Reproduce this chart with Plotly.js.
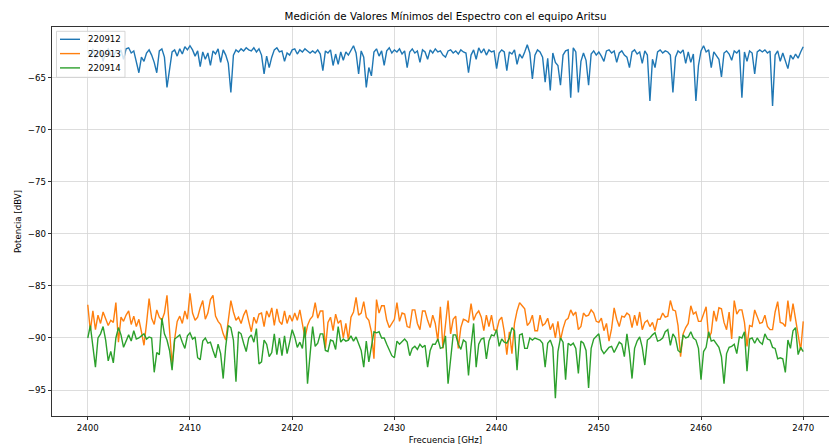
<!DOCTYPE html>
<html>
<head>
<meta charset="utf-8">
<script src="https://cdn.plot.ly/plotly-3.0.1.min.js"></script>
<style>
  html, body { margin: 0; padding: 0; overflow: hidden; background: #fff; }
  #chart { width: 860px; height: 448px; }
</style>
</head>
<body>
<div id="chart"></div>
<script>
// Frequency grid (GHz): 2400 to 2470 in 0.25 GHz steps
const freqStart = 2400;
const freqStep = 0.25;
const freqCount = 281;

// Minimum level per frequency (dBV) for each measurement
const s220912 = [
  -62.4, -62.9, -62.2, -63.1,  -62.6, -62.3, -63.4, -62.5,  -62.2, -62.8, -63.0, -62.4,  -62.7, -62.3, -63.2, -62.2,
  -62.1, -62.6, -62.4, -63.6,  -64.5, -63.0, -63.4, -62.6,  -62.3, -62.8, -63.5, -64.5,  -62.4, -62.2, -63.0, -65.9,
  -64.2, -62.5, -62.3, -62.9,  -62.2, -62.7, -62.0, -62.3,  -61.9, -62.3, -62.9, -62.4,  -63.9, -62.5, -63.2, -62.6,
  -63.8, -62.4, -62.7, -62.2,  -63.5, -62.3, -62.8, -63.6,  -66.4, -62.8, -62.3, -62.5,  -62.2, -62.4, -62.1, -62.3,
  -62.4, -62.1, -62.5, -62.2,  -62.8, -64.6, -62.9, -64.0,  -63.0, -62.3, -62.1, -62.5,  -62.4, -63.4, -62.6, -62.8,
  -62.3, -62.2, -62.7, -62.3,  -62.5, -62.2, -62.4, -62.6,  -62.4, -62.6, -62.3, -62.7,  -64.3, -62.4, -62.6, -62.3,
  -63.8, -62.7, -63.7, -62.5,  -63.3, -62.5, -62.8, -62.3,  -61.9, -62.6, -64.6, -62.4,  -63.0, -65.9, -64.0, -64.8,
  -62.5, -62.2, -62.9, -62.4,  -63.8, -62.4, -62.1, -62.6,  -62.3, -62.5, -62.2, -62.7,  -62.4, -64.0, -62.5, -62.2,
  -62.6, -62.4, -63.5, -62.3,  -62.5, -63.2, -62.3, -62.6,  -62.2, -62.5, -62.4, -62.8,  -63.0, -62.4, -62.3, -62.6,
  -62.4, -62.7, -62.3, -62.5,  -62.6, -64.5, -62.8, -62.3,  -63.2, -62.1, -62.6, -62.2,  -62.8, -62.3, -62.5, -62.4,
  -64.1, -62.6, -62.3, -62.5,  -64.3, -62.5, -62.7, -62.3,  -63.7, -62.7, -63.1, -62.5,  -61.8, -62.6, -65.1, -62.8,
  -62.3, -62.5, -63.0, -65.4,  -63.1, -66.2, -62.6, -63.5,  -63.8, -65.7, -62.8, -62.4,  -62.3, -66.9, -62.1, -62.5,
  -66.4, -63.4, -62.6, -63.3,  -65.7, -62.7, -62.4, -62.8,  -62.5, -62.9, -63.4, -62.4,  -62.3, -62.6, -62.4, -63.5,
  -62.6, -62.4, -62.8, -63.0,  -64.0, -62.5, -62.3, -62.7,  -62.5, -63.6, -62.4, -62.8,  -67.2, -63.2, -64.0, -62.5,
  -62.3, -62.6, -62.4, -62.5,  -62.8, -66.4, -63.0, -62.4,  -62.6, -62.3, -63.6, -62.5,  -63.5, -62.7, -67.2, -63.8,
  -62.4, -61.9, -62.5, -62.3,  -64.0, -62.5, -62.8, -63.2,  -64.9, -62.6, -62.4, -62.7,  -63.3, -62.4, -62.6, -62.3,
  -66.9, -62.5, -63.4, -62.4,  -62.6, -64.6, -62.5, -62.3,  -62.5, -62.3, -62.6, -62.4,  -67.7, -62.8, -62.4, -63.4,
  -62.6, -63.3, -64.1, -62.8,  -63.2, -62.7, -63.1, -62.5,
  -62.0
];

const s220913 = [
  -86.8, -89.3, -87.4, -89.2,  -87.8, -88.6, -87.5, -88.2,  -88.8, -88.3, -88.5, -86.6,  -90.4, -88.0, -88.4, -87.8,
  -87.4, -88.7, -87.9, -88.9,  -88.2, -89.4, -90.7, -88.6,  -86.2, -88.1, -88.7, -87.3,  -88.0, -88.3, -87.6, -85.9,
  -89.6, -92.6, -90.1, -88.4,  -87.9, -88.6, -87.4, -88.2,  -85.7, -87.6, -88.3, -88.0,  -87.1, -86.4, -88.2, -87.6,
  -86.3, -85.9, -87.9, -88.4,  -88.7, -89.6, -90.2, -88.5,  -86.4, -87.5, -88.3, -88.0,  -88.6, -87.8, -87.3, -88.4,
  -89.4, -88.0, -88.6, -87.7,  -87.6, -88.9, -87.4, -88.0,  -87.1, -88.8, -87.2, -88.4,  -88.7, -87.4, -88.6, -87.8,
  -88.4, -87.6, -88.3, -87.3,  -88.5, -90.0, -88.8, -88.2,  -87.9, -86.6, -88.1, -87.4,  -87.4, -91.0, -88.5, -88.0,
  -89.3, -87.7, -88.6, -88.3,  -90.0, -88.6, -90.2, -88.0,  -87.5, -86.1, -87.8, -87.6,  -86.5, -88.0, -88.3, -89.4,
  -92.0, -86.3, -87.6, -86.9,  -86.9, -88.3, -89.0, -88.6,  -88.2, -86.6, -88.4, -87.6,  -87.7, -88.9, -89.0, -87.3,
  -87.3, -88.6, -89.2, -87.4,  -87.4, -88.3, -89.0, -87.8,  -88.6, -90.3, -87.0, -91.0,  -88.9, -86.4, -89.6, -88.2,
  -87.9, -91.0, -89.0, -88.2,  -88.3, -88.5, -86.7, -88.3,  -87.7, -87.4, -88.0, -89.3,  -87.8, -88.9, -87.8, -89.2,
  -89.3, -88.3, -88.0, -89.4,  -91.6, -89.4, -91.5, -88.6,  -87.4, -86.6, -86.9, -87.2,  -88.8, -88.5, -87.8, -89.3,
  -89.3, -87.8, -88.8, -88.6,  -88.1, -89.2, -88.6, -90.0,  -88.4, -90.2, -89.1, -88.3,  -88.1, -87.3, -87.8, -87.5,
  -89.2, -88.9, -87.6, -87.9,  -87.8, -87.3, -87.6, -88.4,  -88.5, -88.1, -89.3, -88.6,  -90.3, -89.1, -87.1, -88.2,
  -88.9, -87.9, -88.0, -87.6,  -87.8, -89.0, -87.8, -88.8,  -87.5, -89.2, -88.5, -88.3,  -88.9, -88.5, -89.3, -88.2,
  -88.2, -87.6, -88.0, -87.9,  -86.4, -87.3, -87.4, -88.8,  -91.8, -89.6, -89.0, -88.6,  -86.9, -87.7, -87.5, -88.4,
  -88.4, -87.7, -87.0, -90.0,  -89.5, -87.4, -88.4, -87.1,  -87.2, -88.5, -89.2, -87.5,  -90.1, -86.4, -87.7, -87.3,
  -87.3, -88.5, -90.8, -88.8,  -88.9, -87.3, -88.0, -88.6,  -88.5, -87.8, -88.9, -89.2,  -89.2, -87.5, -86.5, -88.5,
  -88.6, -88.9, -86.4, -88.4,  -86.7, -88.3, -89.7, -91.2,
  -88.4
];

const s220914 = [
  -90.0, -88.8, -90.8, -92.8,  -90.0, -89.6, -88.9, -90.2,  -92.2, -91.3, -92.4, -90.0,  -89.0, -89.7, -90.9, -90.2,
  -89.7, -90.3, -89.3, -90.1,  -90.0, -89.8, -89.6, -90.1,  -89.9, -90.0, -93.3, -91.4,  -91.6, -88.1, -89.6, -90.2,
  -91.2, -93.1, -90.1, -89.9,  -89.7, -90.4, -91.0, -89.8,  -89.5, -90.1, -89.9, -91.9,  -92.1, -90.3, -90.0, -90.5,
  -90.4, -91.2, -91.9, -90.6,  -91.5, -93.9, -90.8, -88.8,  -89.0, -90.2, -94.2, -89.4,  -89.6, -90.5, -91.3, -90.0,
  -89.7, -90.4, -89.1, -92.5,  -92.3, -90.2, -90.6, -91.8,  -91.4, -89.6, -91.6, -90.0,  -91.7, -89.8, -91.5, -90.4,
  -89.2, -89.9, -90.9, -90.4,  -91.0, -88.9, -94.4, -91.6,  -88.9, -90.8, -90.5, -89.6,  -89.6, -91.2, -91.3, -90.2,
  -90.3, -91.1, -88.9, -90.4,  -90.1, -90.3, -90.2, -89.8,  -90.3, -89.9, -90.6, -91.2,  -92.8, -90.3, -92.3, -90.8,
  -89.4, -89.5, -89.4, -90.0,  -90.0, -90.6, -91.2, -91.7,  -91.9, -90.3, -90.6, -90.3,  -90.1, -90.4, -91.7, -91.0,
  -90.8, -91.1, -90.6, -90.9,  -90.7, -92.8, -91.2, -90.6,  -90.6, -90.1, -91.0, -90.9,  -89.8, -94.4, -91.8, -89.7,
  -89.7, -90.6, -91.1, -90.2,  -90.4, -93.6, -90.8, -88.6,  -92.8, -90.6, -90.1, -90.0,  -92.0, -90.3, -89.7, -89.8,
  -89.2, -90.8, -90.1, -90.4,  -90.5, -90.0, -89.0, -89.3,  -93.1, -89.7, -89.6, -91.0,  -91.0, -90.0, -90.2, -90.0,
  -90.1, -90.2, -90.5, -92.8,  -90.5, -90.2, -90.9, -95.8,  -91.3, -90.0, -90.4, -94.0,  -90.5, -90.7, -90.5, -91.0,
  -93.4, -90.3, -90.5, -91.2,  -94.8, -91.0, -90.1, -89.8,  -89.6, -91.1, -91.5, -91.2,  -90.9, -90.8, -91.4, -90.9,
  -90.4, -90.6, -91.8, -89.6,  -91.4, -93.9, -91.0, -90.3,  -89.9, -90.9, -92.6, -90.2,  -90.0, -89.7, -89.5, -90.3,
  -90.2, -90.0, -89.4, -89.2,  -90.7, -89.6, -90.0, -91.2,  -91.4, -89.7, -90.0, -89.9,  -89.4, -90.0, -90.2, -91.0,
  -94.0, -91.3, -90.9, -89.4,  -90.3, -90.2, -90.5, -90.9,  -91.8, -94.4, -91.5, -90.9,  -90.8, -90.6, -91.5, -89.9,
  -90.0, -89.4, -93.2, -90.1,  -90.0, -90.5, -90.0, -90.4,  -90.6, -89.6, -90.1, -90.2,  -90.9, -91.0, -92.0, -91.9,
  -92.0, -93.3, -90.2, -91.0,  -89.3, -89.0, -91.6, -90.9,
  -91.3
];

const seriesNames = ['220912', '220913', '220914'];
const seriesColors = ['#1f77b4', '#ff7f0e', '#2ca02c'];
const xTicks = [2400, 2410, 2420, 2430, 2440, 2450, 2460, 2470];
const yTicks = [-95, -90, -85, -80, -75, -70, -65];

const freq = Array.from({ length: freqCount }, (_, i) => +(freqStart + i * freqStep).toFixed(2));

// Figure geometry in pixels
const W = 860, H = 448;
const M = { l: 52, r: 21, t: 27, b: 32 };
const plotW = W - M.l - M.r;
const plotH = H - M.t - M.b;
const px2paperX = px => (px - M.l) / plotW;
const px2paperY = py => 1 - (py - M.t) / plotH;

const LINE_W = 1.4;
const FONT = 'DejaVu Sans';

const traces = [s220912, s220913, s220914].map((vals, i) => ({
  type: 'scatter',
  mode: 'lines',
  name: seriesNames[i],
  x: freq,
  y: vals,
  line: { color: seriesColors[i], width: LINE_W },
  hoverinfo: 'skip'
}));

// Legend box in the upper-left corner of the axes
const legendBox = { x0: 56.5, x1: 125, y0: 31.3, y1: 77.3 };
const legendRowY = [39.3, 53.6, 67.9];
const legendHandle = { x0: 60, x1: 80 };
const legendTextX = 85.8;

const shapes = [{
  type: 'rect', xref: 'paper', yref: 'paper', layer: 'above',
  x0: px2paperX(legendBox.x0), x1: px2paperX(legendBox.x1),
  y0: px2paperY(legendBox.y0), y1: px2paperY(legendBox.y1),
  fillcolor: 'rgba(255,255,255,0.8)',
  line: { color: 'rgba(204,204,204,0.8)', width: 1 }
}];
const annotations = [];
seriesNames.forEach((name, i) => {
  shapes.push({
    type: 'line', xref: 'paper', yref: 'paper', layer: 'above',
    x0: px2paperX(legendHandle.x0), x1: px2paperX(legendHandle.x1),
    y0: px2paperY(legendRowY[i]), y1: px2paperY(legendRowY[i]),
    line: { color: seriesColors[i], width: LINE_W }
  });
  annotations.push({
    xref: 'paper', yref: 'paper', showarrow: false,
    x: px2paperX(legendTextX), y: px2paperY(legendRowY[i]),
    xanchor: 'left', yanchor: 'middle',
    text: name,
    font: { family: FONT, size: 8.6, color: '#000' }
  });
});

const axisCommon = {
  showgrid: true,
  gridcolor: '#d4d4d4',
  gridwidth: 0.8,
  showline: true,
  linecolor: '#000',
  linewidth: 0.8,
  mirror: true,
  ticks: 'outside',
  ticklen: 3.5,
  tickwidth: 0.8,
  tickcolor: '#000',
  zeroline: false,
  tickfont: { family: FONT, size: 8.6, color: '#000' }
};

const layout = {
  width: W,
  height: H,
  margin: M,
  paper_bgcolor: '#fff',
  plot_bgcolor: '#fff',
  font: { family: FONT, size: 8.6, color: '#000' },
  title: {
    text: 'Medición de Valores Mínimos del Espectro con el equipo Aritsu',
    font: { family: FONT, size: 10.3, color: '#000' },
    x: 0.5, xref: 'paper', xanchor: 'center',
    y: 1 - 16 / H, yref: 'container', yanchor: 'middle'
  },
  xaxis: Object.assign({}, axisCommon, {
    range: [2396.5, 2473.5],
    tickvals: xTicks,
    ticktext: xTicks.map(String),
    title: { text: 'Frecuencia [GHz]', font: { family: FONT, size: 8.6, color: '#000' }, standoff: 5 }
  }),
  yaxis: Object.assign({}, axisCommon, {
    range: [-97.5, -60.1],
    tickvals: yTicks,
    title: { text: 'Potencia [dBV]', font: { family: FONT, size: 8.6, color: '#000' }, standoff: 4 }
  }),
  showlegend: false,
  shapes: shapes,
  annotations: annotations
};

Plotly.newPlot('chart', traces, layout, { staticPlot: true, displayModeBar: false });
</script>
</body>
</html>
